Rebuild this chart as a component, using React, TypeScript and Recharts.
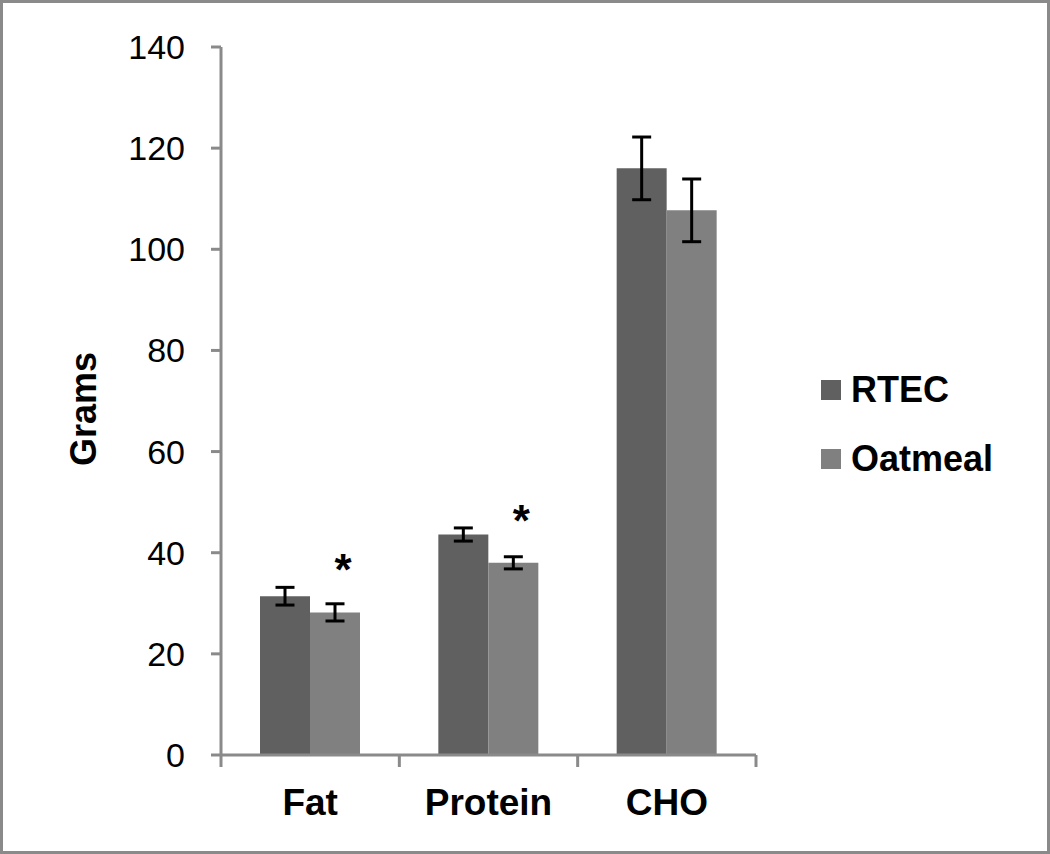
import React from "react";
import { Bar, BarChart, ErrorBar, Label, LabelList, Legend, XAxis, YAxis } from "recharts";

const categories = ["Fat", "Protein", "CHO"];
const seriesNames = ["RTEC", "Oatmeal"];
const rtec = [31.4, 43.6, 116.0];
const rtecErr = [1.75, 1.3, 6.2];
const oatmeal = [28.2, 38.0, 107.7];
const oatmealErr = [1.7, 1.2, 6.2];
const significant = ["*", "*", ""];
const yTicks = [0, 20, 40, 60, 80, 100, 120, 140];

const data = categories.map((name, i) => ({
  name,
  rtec: rtec[i],
  rtecErr: rtecErr[i],
  oatmeal: oatmeal[i],
  oatmealErr: oatmealErr[i],
  sig: significant[i],
}));

const W = 1050;
const H = 854;
const margin = { top: 47, right: 294, bottom: 39, left: 0 };
const Y_AXIS_W = 221;
const X_AXIS_H = 60;
const band = (W - margin.left - margin.right - Y_AXIS_W) / categories.length;

const AXIS = "#8a8a8a";
const FONT = "'Liberation Sans', Arial, sans-serif";

function CategoryTick(props: any) {
  const { x, y, payload, index } = props;
  const half = band / 2;
  return (
    <g>
      <line x1={x - half} x2={x - half} y1={y} y2={y + 12} stroke={AXIS} strokeWidth={3} />
      {index === categories.length - 1 && (
        <line x1={x + half} x2={x + half} y1={y} y2={y + 12} stroke={AXIS} strokeWidth={3} />
      )}
      <text x={x} y={y + 60} textAnchor="middle" fontSize={37} fontWeight="bold" fill="#000" fontFamily={FONT}>
        {payload.value}
      </text>
    </g>
  );
}

function GramsLabel(props: any) {
  const vb = props.viewBox || { x: 0, y: margin.top, width: Y_AXIS_W, height: 708 };
  const cx = vb.x + 83;
  const cy = vb.y + vb.height / 2 + 8;
  return (
    <text
      x={cx}
      y={cy}
      transform={`rotate(-90 ${cx} ${cy})`}
      textAnchor="middle"
      dominantBaseline="central"
      fontSize={36}
      fontWeight="bold"
      fill="#000"
      fontFamily={FONT}
    >
      Grams
    </text>
  );
}

function Star(props: any) {
  const { x, y, width, value } = props;
  if (!value) return null;
  return (
    <text x={x + width / 2 + 8} y={y - 27} textAnchor="middle" fontSize={44} fontWeight="bold" fill="#000" fontFamily={FONT}>
      {value}
    </text>
  );
}

function LegendBox(props: any) {
  const items = [...(props.payload || [])].sort(
    (a: any, b: any) => seriesNames.indexOf(a.value) - seriesNames.indexOf(b.value)
  );
  return (
    <div style={{ fontFamily: FONT }}>
      {items.map((it: any, i: number) => (
        <div key={it.value} style={{ display: "flex", alignItems: "center", height: 40, marginTop: i === 0 ? 0 : 29 }}>
          <span style={{ width: 20, height: 20, background: it.color, marginRight: 10, display: "inline-block" }} />
          <span style={{ fontSize: 36, fontWeight: "bold", lineHeight: "40px", color: "#000" }}>{it.value}</span>
        </div>
      ))}
    </div>
  );
}

export default function App() {
  return (
    <div style={{ position: "absolute", left: 0, top: 0, width: W, height: H, background: "#fff" }}>
      <BarChart width={W} height={H} data={data} margin={margin} barGap={0} barSize={50}>
        <XAxis
          dataKey="name"
          height={X_AXIS_H}
          interval={0}
          tickSize={0}
          tickMargin={0}
          tickLine={false}
          axisLine={{ stroke: AXIS, strokeWidth: 3 }}
          tick={<CategoryTick />}
        />
        <YAxis
          width={Y_AXIS_W}
          domain={[0, 140]}
          ticks={yTicks}
          interval={0}
          tickSize={10}
          tickMargin={26}
          axisLine={{ stroke: AXIS, strokeWidth: 3 }}
          tickLine={{ stroke: AXIS, strokeWidth: 3 }}
          tick={{ fill: "#000", fontSize: 34, fontFamily: FONT }}
        >
          <Label content={<GramsLabel />} />
        </YAxis>
        <Legend
          layout="vertical"
          align="center"
          verticalAlign="middle"
          wrapperStyle={{ left: 821, top: 370, width: 220 }}
          content={<LegendBox />}
        />
        <Bar dataKey="rtec" name={seriesNames[0]} fill="#606060" isAnimationActive={false}>
          <ErrorBar dataKey="rtecErr" width={9.5} strokeWidth={3} stroke="#000" direction="y" />
        </Bar>
        <Bar dataKey="oatmeal" name={seriesNames[1]} fill="#808080" isAnimationActive={false}>
          <ErrorBar dataKey="oatmealErr" width={9.5} strokeWidth={3} stroke="#000" direction="y" />
          <LabelList dataKey="sig" content={<Star />} />
        </Bar>
      </BarChart>
      <div
        style={{
          position: "absolute",
          left: 0,
          top: 0,
          width: W,
          height: H,
          boxSizing: "border-box",
          border: `3px solid ${AXIS}`,
          pointerEvents: "none",
        }}
      />
    </div>
  );
}
